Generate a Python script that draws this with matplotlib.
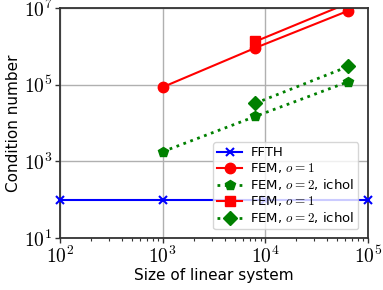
import numpy as np
import matplotlib
matplotlib.use('Agg')
import matplotlib.pyplot as plt
from matplotlib.ticker import FuncFormatter, NullLocator

plt.rcParams['mathtext.fontset'] = 'cm'
plt.rcParams['font.family'] = ['DejaVu Sans']

# Data
ffth_n = [1e2, 1e3, 1e4, 1e5]
ffth_cond = [100, 100, 100, 100]

fem1_n = [1000, 8000, 64000]
fem1_cond = [8.7e4, 9.2e5, 8.5e6]

fem2_n = [1000, 8000, 64000]
fem2_cond = [1.8e3, 1.5e4, 1.2e5]

fem1b_n = [8000, 64000]
fem1b_cond = [1.35e6, 1.35e7]

fem2b_n = [8000, 64000]
fem2b_cond = [3.3e4, 3.0e5]

fig = plt.figure(figsize=(3.83, 2.90), dpi=100)
ax = fig.add_axes([0.157, 0.179, 0.804, 0.793])

ax.plot(ffth_n, ffth_cond, color='blue', marker='x', lw=1.5, ms=6, mew=1.5, label='FFTH', clip_on=False, zorder=3)
ax.plot(fem1_n, fem1_cond, color='red', marker='o', lw=1.5, ms=7.5, label='FEM, $o=1$')
ax.plot(fem2_n, fem2_cond, color='green', marker='p', ls=':', lw=2, ms=7.5, label='FEM, $o=2$, ichol')
ax.plot(fem1b_n, fem1b_cond, color='red', marker='s', lw=1.5, ms=7.5, label='FEM, $o=1$')
ax.plot(fem2b_n, fem2b_cond, color='green', marker='D', ls=':', lw=2, ms=7.5, label='FEM, $o=2$, ichol')

ax.set_xscale('log')
ax.set_yscale('log')
ax.set_xlim(1e2, 1e5)
ax.set_ylim(1e1, 1e7)
ax.set_xticks([1e2, 1e3, 1e4, 1e5])
ax.set_yticks([1e1, 1e3, 1e5, 1e7])
ax.yaxis.set_minor_locator(NullLocator())
pow_fmt = FuncFormatter(lambda v, pos: '$10^{%d}$' % round(np.log10(v)))
ax.xaxis.set_major_formatter(pow_fmt)
ax.yaxis.set_major_formatter(pow_fmt)
ax.grid(True, which='major', color='#b0b0b0', lw=1)
ax.set_axisbelow(True)

for s in ax.spines.values():
    s.set_color('#333333')
    s.set_linewidth(1.3)
ax.tick_params(which='major', length=3.5, width=1, labelsize=14, colors='#333333', labelcolor='black', pad=2)
ax.tick_params(which='minor', length=2, width=0.8, colors='#333333')

ax.set_xlabel('Size of linear system', fontsize=11, labelpad=1)
ax.set_ylabel('Condition number', fontsize=11, labelpad=2)

ax.legend(loc='lower right', fontsize=9.5, framealpha=0.8, handlelength=1.9,
          borderpad=0.3, labelspacing=0.15, handletextpad=0.6,
          bbox_to_anchor=(0.99, 0.01))

fig.savefig('out.png', dpi=100)
